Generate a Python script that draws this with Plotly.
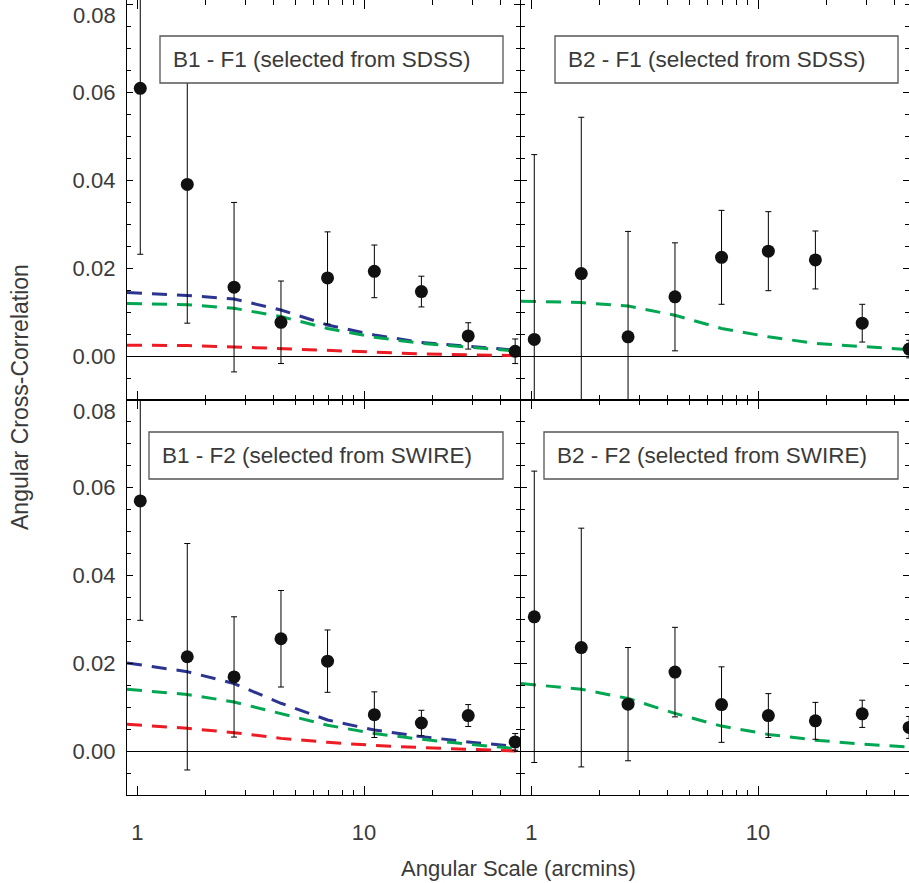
import math
import plotly.graph_objects as go

W, H = 909, 883

# ---------------- data ----------------
SEP = [1.03, 1.66, 2.67, 4.3, 6.9, 11.1, 17.9, 28.8, 46.4]

B1F1_Y = [0.0610, 0.0391, 0.0157, 0.0077, 0.0178, 0.0193, 0.0147, 0.0046, 0.0011]
B1F1_ERR = [0.0378, 0.0316, 0.0193, 0.0094, 0.0105, 0.0060, 0.0035, 0.0030, 0.0028]
B2F1_Y = [0.0038, 0.0188, 0.0044, 0.0135, 0.0225, 0.0239, 0.0219, 0.0075, 0.0016]
B2F1_ERR = [0.0421, 0.0356, 0.0240, 0.0123, 0.0107, 0.0090, 0.0066, 0.0043, 0.0020]
B1F2_Y = [0.0570, 0.0215, 0.0169, 0.0256, 0.0205, 0.0083, 0.0064, 0.0081, 0.0021]
B1F2_ERR = [0.0272, 0.0258, 0.0137, 0.0110, 0.0071, 0.0052, 0.0029, 0.0025, 0.0019]
B2F2_Y = [0.0306, 0.0236, 0.0107, 0.0180, 0.0106, 0.0081, 0.0069, 0.0085, 0.0054]
B2F2_ERR = [0.0332, 0.0272, 0.0129, 0.0102, 0.0086, 0.0050, 0.0042, 0.0031, 0.0025]

MODEL_X = [0.9, 1.66, 2.67, 4.3, 6.9, 11.1, 17.9, 28.8, 48.0]
B1F1_BLUE = [0.0145, 0.0138, 0.0130, 0.0105, 0.0071, 0.0048, 0.0031, 0.0023, 0.0013]
B1F1_GREEN = [0.0120, 0.0117, 0.0109, 0.0090, 0.0063, 0.0043, 0.0029, 0.0020, 0.0011]
B1F1_RED = [0.0025, 0.0024, 0.0021, 0.0017, 0.0012, 0.0008, 0.0005, 0.0003, 0.0001]
B2F1_GREEN = [0.0125, 0.0122, 0.0114, 0.0093, 0.0063, 0.0044, 0.0029, 0.0021, 0.0014]
B1F2_BLUE = [0.0201, 0.0181, 0.0154, 0.0109, 0.0071, 0.0048, 0.0033, 0.0021, 0.0010]
B1F2_GREEN = [0.0141, 0.0129, 0.0112, 0.0086, 0.0059, 0.0040, 0.0027, 0.0016, 0.0005]
B1F2_RED = [0.0061, 0.0052, 0.0042, 0.0029, 0.0020, 0.0013, 0.0008, 0.0004, 0.0000]
B2F2_GREEN = [0.0154, 0.0141, 0.0120, 0.0086, 0.0057, 0.0038, 0.0025, 0.0016, 0.0009]

PANEL_LABELS = ["B1 - F1 (selected from SDSS)", "B2 - F1 (selected from SDSS)",
                "B1 - F2 (selected from SWIRE)", "B2 - F2 (selected from SWIRE)"]
X_TICKS = [1, 10]
X_TICKTEXT = ["1", "10"]
X_MINOR = [2, 3, 4, 5, 6, 7, 8, 9, 20, 30, 40]
Y_TICKS = [0.0, 0.02, 0.04, 0.06, 0.08]
Y_TICKTEXT = ["0.00", "0.02", "0.04", "0.06", ""]

BLUE = "#2b3590"
GREEN = "#00a651"
RED = "#ed1c24"
TXT = "#3a3a3a"
FONT = "Liberation Sans, Arial, Helvetica, sans-serif"


def px(x):
    return x / W


def py(y):
    return 1 - y / H


fig = go.Figure()

panels = [
    ("x", "y", B1F1_Y, B1F1_ERR, [(B1F1_BLUE, BLUE), (B1F1_GREEN, GREEN), (B1F1_RED, RED)]),
    ("x2", "y2", B2F1_Y, B2F1_ERR, [(B2F1_GREEN, GREEN)]),
    ("x3", "y3", B1F2_Y, B1F2_ERR, [(B1F2_BLUE, BLUE), (B1F2_GREEN, GREEN), (B1F2_RED, RED)]),
    ("x4", "y4", B2F2_Y, B2F2_ERR, [(B2F2_GREEN, GREEN)]),
]

for xa, ya, yv, ev, models in panels:
    for mv, col in models:
        fig.add_trace(go.Scatter(x=MODEL_X, y=mv, xaxis=xa, yaxis=ya, mode="lines",
                                 line=dict(color=col, width=3, dash="15px,10px"),
                                 showlegend=False, hoverinfo="skip"))
    fig.add_trace(go.Scatter(x=SEP, y=yv, xaxis=xa, yaxis=ya, mode="markers",
                             marker=dict(color="#111111", size=13),
                             error_y=dict(type="data", array=ev, color="black", thickness=1, width=3),
                             showlegend=False))

# geometry (pixels)
LX0, LX1 = 127, 520
RX0, RX1 = 521, 909
DEC = 226.7
TY0, TY1 = 0, 400
BY0, BY1 = 400, 795
lo = math.log10(0.9)

common = dict(showline=True, linecolor="black", linewidth=1.3, mirror="allticks",
              ticks="inside", showgrid=False, tickcolor="black",
              tickfont=dict(family=FONT, size=22, color=TXT))


def xaxis(dom, width, anchor, labels):
    d = dict(common)
    d.update(type="log", domain=dom, range=[lo, lo + width / DEC], anchor=anchor,
             tickmode="array", tickvals=X_TICKS, ticktext=X_TICKTEXT, ticklen=9,
             showticklabels=labels, zeroline=False, ticklabelstandoff=17,
             minor=dict(tickmode="array", tickvals=X_MINOR, ticks="inside", ticklen=5,
                        tickcolor="black", showgrid=False))
    return d


def yaxis(dom, rng, anchor, labels):
    d = dict(common)
    d.update(domain=dom, range=rng, anchor=anchor, tickmode="array", tickvals=Y_TICKS,
             ticktext=Y_TICKTEXT, ticklen=6, showticklabels=labels,
             zeroline=True, zerolinecolor="black", zerolinewidth=1, ticklabelstandoff=6,
             minor=dict(dtick=0.005, tick0=0, ticks="inside", ticklen=4, tickcolor="black",
                        showgrid=False))
    return d


xl = [px(LX0), px(LX1)]
xr = [px(RX0), 1.0]
yt = [py(TY1), 1.0]
yb = [py(BY1), py(BY0)]
top_rng = [-0.01, -0.01 + (TY1 - TY0) / 4390.0]
bot_rng = [-0.01, 0.08]

fig.update_layout(
    width=W, height=H, margin=dict(l=0, r=0, t=0, b=0),
    paper_bgcolor="white", plot_bgcolor="white",
    xaxis=xaxis(xl, LX1 - LX0, "y", False),
    xaxis2=xaxis(xr, RX1 - RX0, "y2", False),
    xaxis3=xaxis(xl, LX1 - LX0, "y3", True),
    xaxis4=xaxis(xr, RX1 - RX0, "y4", True),
    yaxis=yaxis(yt, top_rng, "x", True),
    yaxis2=yaxis(yt, top_rng, "x2", False),
    yaxis3=yaxis(yb, bot_rng, "x3", True),
    yaxis4=yaxis(yb, bot_rng, "x4", False),
)

# panel label boxes
boxes = [(160, 503, 36, 83, 171), (555, 898, 36, 83, 566),
         (149, 503, 432, 479, 160), (544, 898, 432, 479, 555)]
for (bx0, bx1, by0, by1, tx), lab in zip(boxes, PANEL_LABELS):
    fig.add_shape(type="rect", xref="paper", yref="paper",
                  x0=px(bx0), x1=px(bx1), y0=py(by1), y1=py(by0),
                  line=dict(color="#555555", width=1.3), fillcolor="white", layer="above")
    fig.add_annotation(xref="paper", yref="paper", x=px(tx), y=py((by0 + by1) / 2),
                       xanchor="left", yanchor="middle", text=lab, showarrow=False,
                       font=dict(family=FONT, size=22.5, color=TXT))

# 0.08 labels (placed slightly below the tick, as in the original)
for yy in (16, 411):
    fig.add_annotation(xref="paper", yref="paper", x=px(118), y=py(yy), xanchor="right",
                       yanchor="middle", text="0.08", showarrow=False,
                       font=dict(family=FONT, size=22, color=TXT))

# axis titles
fig.add_annotation(xref="paper", yref="paper", x=px(518), y=py(868), xanchor="center",
                   yanchor="middle", text="Angular Scale (arcmins)", showarrow=False,
                   font=dict(family=FONT, size=22, color=TXT))
fig.add_annotation(xref="paper", yref="paper", x=px(20), y=py(397), xanchor="center",
                   yanchor="middle", text="Angular Cross-Correlation", showarrow=False,
                   textangle=-90, font=dict(family=FONT, size=23, color=TXT))

fig.write_html("out.html", config={"displayModeBar": False},
               post_script="document.body.style.margin='0';document.body.style.overflow='hidden';")
